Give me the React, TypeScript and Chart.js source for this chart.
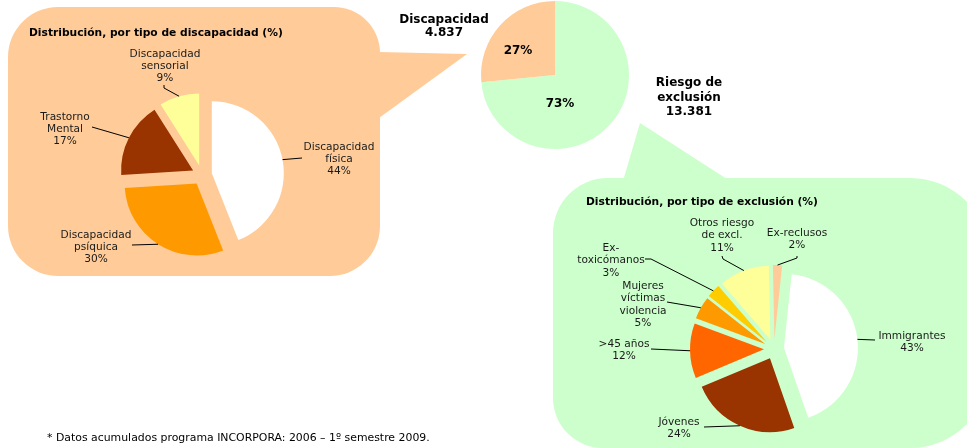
import React, { useEffect, useRef } from "react";
import { Chart, registerables } from "chart.js";

Chart.register(...registerables);

// ---------------- data ----------------
const mainCategories = ["Riesgo de exclusión", "Discapacidad"];
const mainLabelLines = [["Riesgo de", "exclusión"], ["Discapacidad"]];
const mainValues = [13381, 4837];

const disabilityCategories = [
  "Discapacidad física",
  "Discapacidad psíquica",
  "Trastorno Mental",
  "Discapacidad sensorial",
];
const disabilityLabelLines = [
  ["Discapacidad", "física"],
  ["Discapacidad", "psíquica"],
  ["Trastorno", "Mental"],
  ["Discapacidad", "sensorial"],
];
const disabilityValues = [44, 30, 17, 9];

const exclusionCategories = [
  "Immigrantes",
  "Jóvenes",
  ">45 años",
  "Mujeres víctimas violencia",
  "Ex-toxicómanos",
  "Otros riesgo de excl.",
  "Ex-reclusos",
];
const exclusionLabelLines = [
  ["Immigrantes"],
  ["Jóvenes"],
  [">45 años"],
  ["Mujeres", "víctimas", "violencia"],
  ["Ex-", "toxicómanos"],
  ["Otros riesgo", "de excl."],
  ["Ex-reclusos"],
];
const exclusionValues = [43, 24, 12, 5, 3, 11, 2];

const disabilityTitle = "Distribución, por tipo de discapacidad (%)";
const exclusionTitle = "Distribución, por tipo de exclusión (%)";
const footnote = "* Datos acumulados programa INCORPORA: 2006 – 1º semestre 2009.";

// ---------------- styles ----------------
const W = 967;
const H = 448;
const PEACH = "#FFCC99";
const GREEN = "#CCFFCC";
const mainColors = [GREEN, PEACH];
const disabilityColors = ["#FFFFFF", "#FF9900", "#993300", "#FFFF99"];
const exclusionColors = ["#FFFFFF", "#993300", "#FF6600", "#FF9900", "#FFCC00", "#FFFF99", "#FFCC99"];

const FONT = "'DejaVu Sans', Verdana, sans-serif";
const LABEL_FONT = `10.6px ${FONT}`;
const NOTE_FONT = `10.9px ${FONT}`;
const TITLE_FONT = `bold 10.7px ${FONT}`;
const MAIN_FONT = `bold 12px ${FONT}`;
const TEXT_COLOR = "#1a1a1a";

// ---------------- layout ----------------
type Geom = { cx: number; cy: number; r: number; rotation: number; explode: number };
const mainGeom: Geom = { cx: 555, cy: 75, r: 74, rotation: 0, explode: 0 };
const disGeom: Geom = { cx: 202, cy: 175, r: 72, rotation: 0, explode: 10 };
const excGeom: Geom = { cx: 774, cy: 349, r: 74, rotation: 6, explode: 10 };

type LabelPos = { x: number; y: number; leader: number[][] };
const disLabelLayout: LabelPos[] = [
  { x: 339, y: 147, leader: [[302, 158]] },
  { x: 96, y: 235, leader: [[132, 245]] },
  { x: 65, y: 117, leader: [[92, 127]] },
  { x: 165, y: 54, leader: [[164, 85], [164, 88]] },
];
const excLabelLayout: LabelPos[] = [
  { x: 912, y: 336, leader: [[875, 340]] },
  { x: 679, y: 422, leader: [[704, 427]] },
  { x: 624, y: 344, leader: [[651, 349]] },
  { x: 643, y: 286, leader: [[667, 302]] },
  { x: 611, y: 248, leader: [[645, 259], [651, 259]] },
  { x: 722, y: 223, leader: [[722, 256], [723, 259]] },
  { x: 797, y: 233, leader: [[797, 256], [797, 258]] },
];
const mainLabelLayout = [
  { x: 689, y: 83, lh: 14.5, inX: 560, inY: 104 },
  { x: 444, y: 20, lh: 13.3, inX: 518, inY: 51 },
];

const leftBubble = { x: 8, y: 7, w: 372, h: 269, radii: [50, 46, 50, 50], tail: [[379, 52], [467, 54], [379, 118]] };
const rightBubble = { x: 553, y: 178, w: 437, h: 270, radii: [55, 80, 80, 50], tail: [[623, 181], [640, 123], [730, 181]] };

// ---------------- helpers ----------------
function fmtThousands(n: number) {
  return String(n).replace(/\B(?=(\d{3})+(?!\d))/g, ".");
}
function pct(values: number[], i: number) {
  const t = values.reduce((a, b) => a + b, 0);
  return Math.round((values[i] / t) * 100) + "%";
}
function drawLines(ctx: CanvasRenderingContext2D, lines: string[], x: number, y: number, lh: number, font: string, align: CanvasTextAlign = "center", color = TEXT_COLOR) {
  ctx.save();
  ctx.font = font;
  ctx.fillStyle = color;
  ctx.textAlign = align;
  ctx.textBaseline = "middle";
  lines.forEach((t, i) => ctx.fillText(t, x, y + i * lh));
  ctx.restore();
}
function roundRectPath(ctx: CanvasRenderingContext2D, x: number, y: number, w: number, h: number, r: number[]) {
  const [tl, tr, br, bl] = r;
  ctx.moveTo(x + tl, y);
  ctx.lineTo(x + w - tr, y);
  ctx.arcTo(x + w, y, x + w, y + tr, tr);
  ctx.lineTo(x + w, y + h - br);
  ctx.arcTo(x + w, y + h, x + w - br, y + h, br);
  ctx.lineTo(x + bl, y + h);
  ctx.arcTo(x, y + h, x, y + h - bl, bl);
  ctx.lineTo(x, y + tl);
  ctx.arcTo(x, y, x + tl, y, tl);
  ctx.closePath();
}
function paddingFor(g: Geom) {
  const half = 30;
  return { left: g.cx - half, right: W - g.cx - half, top: g.cy - half, bottom: H - g.cy - half };
}

// ---------------- plugins ----------------
const explodePlugin = {
  id: "explode",
  beforeDatasetDraw(chart: any, args: any, opts: any) {
    const ex = (opts && opts.distance) || 0;
    if (!ex) return;
    const ctx = chart.ctx;
    args.meta.data.forEach((arc: any) => {
      const mid = (arc.startAngle + arc.endAngle) / 2;
      ctx.save();
      ctx.translate(Math.cos(mid) * ex, Math.sin(mid) * ex);
      arc.draw(ctx);
      ctx.restore();
    });
    return false;
  },
};

const backgroundPlugin = {
  id: "bubbles",
  beforeDraw(chart: any) {
    const ctx: CanvasRenderingContext2D = chart.ctx;
    ctx.save();
    const bubbles: [typeof leftBubble, string][] = [
      [leftBubble, PEACH],
      [rightBubble, GREEN],
    ];
    bubbles.forEach(([b, color]) => {
      ctx.fillStyle = color;
      ctx.beginPath();
      roundRectPath(ctx, b.x, b.y, b.w, b.h, b.radii);
      ctx.fill();
      ctx.beginPath();
      ctx.moveTo(b.tail[0][0], b.tail[0][1]);
      ctx.lineTo(b.tail[1][0], b.tail[1][1]);
      ctx.lineTo(b.tail[2][0], b.tail[2][1]);
      ctx.closePath();
      ctx.fill();
    });
    ctx.restore();
  },
  afterDraw(chart: any) {
    const ctx: CanvasRenderingContext2D = chart.ctx;
    drawLines(ctx, [disabilityTitle], 29, 33, 0, TITLE_FONT, "left", "#000");
    drawLines(ctx, [exclusionTitle], 586, 202, 0, TITLE_FONT, "left", "#000");
    drawLines(ctx, [footnote], 47, 438, 0, NOTE_FONT, "left", "#000");
  },
};

const mainLabelPlugin = {
  id: "mainLabels",
  afterDatasetsDraw(chart: any) {
    const ctx: CanvasRenderingContext2D = chart.ctx;
    mainLabelLayout.forEach((L, i) => {
      drawLines(ctx, [...mainLabelLines[i], fmtThousands(mainValues[i])], L.x, L.y, L.lh, MAIN_FONT, "center", "#000");
      drawLines(ctx, [pct(mainValues, i)], L.inX, L.inY, 0, MAIN_FONT, "center", "#000");
    });
  },
};

function outsideLabelPlugin(id: string, lines: string[][], values: number[], layout: LabelPos[], lh: number, explode: number) {
  return {
    id,
    afterDatasetsDraw(chart: any) {
      const ctx: CanvasRenderingContext2D = chart.ctx;
      const meta = chart.getDatasetMeta(0);
      meta.data.forEach((arc: any, i: number) => {
        const L = layout[i];
        const mid = (arc.startAngle + arc.endAngle) / 2;
        const cx = arc.x + Math.cos(mid) * explode;
        const cy = arc.y + Math.sin(mid) * explode;
        const ex = cx + Math.cos(mid) * arc.outerRadius;
        const ey = cy + Math.sin(mid) * arc.outerRadius;
        ctx.save();
        ctx.strokeStyle = "#000";
        ctx.lineWidth = 1;
        ctx.beginPath();
        ctx.moveTo(L.leader[0][0], L.leader[0][1]);
        for (let k = 1; k < L.leader.length; k++) ctx.lineTo(L.leader[k][0], L.leader[k][1]);
        ctx.lineTo(ex, ey);
        ctx.stroke();
        ctx.restore();
        drawLines(ctx, [...lines[i], pct(values, i)], L.x, L.y, lh, LABEL_FONT);
      });
    },
  };
}

function pieConfig(labels: string[], values: number[], colors: string[], g: Geom, plugins: any[]): any {
  return {
    type: "pie",
    data: {
      labels,
      datasets: [{ data: values, backgroundColor: colors, borderWidth: 0, clip: false }],
    },
    options: {
      responsive: false,
      maintainAspectRatio: false,
      animation: false,
      events: [],
      radius: g.r,
      rotation: g.rotation,
      layout: { padding: paddingFor(g) },
      plugins: {
        legend: { display: false },
        tooltip: { enabled: false },
        title: { display: false },
        explode: { distance: g.explode },
      },
    },
    plugins,
  };
}

export default function App() {
  const mainRef = useRef<HTMLCanvasElement>(null);
  const disRef = useRef<HTMLCanvasElement>(null);
  const excRef = useRef<HTMLCanvasElement>(null);

  useEffect(() => {
    const charts = [
      new Chart(mainRef.current!, pieConfig(mainCategories, mainValues, mainColors, mainGeom, [backgroundPlugin, explodePlugin, mainLabelPlugin])),
      new Chart(
        disRef.current!,
        pieConfig(disabilityCategories, disabilityValues, disabilityColors, disGeom, [
          explodePlugin,
          outsideLabelPlugin("disLabels", disabilityLabelLines, disabilityValues, disLabelLayout, 12, disGeom.explode),
        ])
      ),
      new Chart(
        excRef.current!,
        pieConfig(exclusionCategories, exclusionValues, exclusionColors, excGeom, [
          explodePlugin,
          outsideLabelPlugin("excLabels", exclusionLabelLines, exclusionValues, excLabelLayout, 12.5, excGeom.explode),
        ])
      ),
    ];
    return () => charts.forEach((c) => c.destroy());
  }, []);

  const cs: React.CSSProperties = { position: "absolute", left: 0, top: 0, width: W, height: H };
  return (
    <div style={{ position: "absolute", left: 0, top: 0, width: W, height: H, background: "#fff", overflow: "hidden" }}>
      <canvas ref={mainRef} width={W} height={H} style={cs} />
      <canvas ref={disRef} width={W} height={H} style={cs} />
      <canvas ref={excRef} width={W} height={H} style={cs} />
    </div>
  );
}
